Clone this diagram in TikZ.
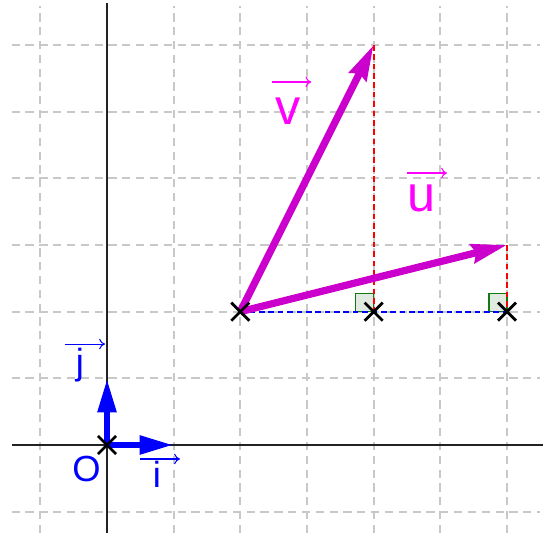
\documentclass[tikz,border=0pt]{standalone}
\usepackage{fontspec}
\setmainfont{Liberation Sans}
\usetikzlibrary{arrows.meta,shapes.misc}
\definecolor{vecmag}{HTML}{CC00CC}
\definecolor{labmag}{HTML}{FF00FF}
\definecolor{gridgray}{HTML}{C8C8C8}
\definecolor{axisgray}{HTML}{222222}
\definecolor{sqfill}{HTML}{E0EAE0}
\definecolor{sqdraw}{HTML}{137A13}
\definecolor{projred}{HTML}{FF0000}
\definecolor{baseblue}{HTML}{0000FF}
\tikzset{
  gridline/.style={draw=gridgray, line width=0.9pt, dash pattern=on 3.5pt off 2.4pt},
  axisline/.style={draw=axisgray, line width=1pt},
  projline/.style={draw=projred, line width=0.9pt, dash pattern=on 2.4pt off 1.6pt},
  basedash/.style={draw=baseblue, line width=0.9pt, dash pattern=on 2.4pt off 1.6pt},
  rightsq/.style={draw=sqdraw, fill=sqfill, line width=0.7pt},
  bigvec/.style={draw=vecmag, fill=vecmag, line width=3.1pt, -{Stealth[length=15pt, width=8pt, inset=1.5pt]}},
  basevec/.style={draw=baseblue, fill=baseblue, line width=2.8pt, -{Triangle[length=14.5pt, width=7.5pt]}},
  ptmark/.style={cross out, draw=black, line width=1.2pt, minimum size=6.5pt, inner sep=0pt},
  biglab/.style={text=labmag, font=\fontsize{21.5}{24}\selectfont, anchor=base, inner sep=0pt},
  smalllab/.style={text=baseblue, font=\fontsize{15.5}{18}\selectfont, anchor=base, inner sep=0pt},
  labarrow/.style={line width=0.45pt, -{To[length=2.5pt, width=4.5pt]}}
}
\begin{document}
\begin{tikzpicture}[x=1cm, y=1cm]
\useasboundingbox (-1.605,-1.32) rectangle (6.615,6.675);
% grid
\foreach \y in {-1,...,6} \draw[gridline] (-1.43,\y) -- (6.5,\y);
\foreach \x in {-1,...,6} \draw[gridline] (\x,-1.32) -- (\x,6.58);
% axes
\draw[axisline] (-1.42,0) -- (6.54,0);
\draw[axisline] (0,-1.32) -- (0,6.63);
% points
\coordinate (V) at (4,6);
\coordinate (U) at (6,3);
\coordinate (I) at (1,0);
\coordinate (J) at (0,1);
\coordinate (A) at (2,2);
\coordinate (B) at (4,2);
\coordinate (C) at (6,2);
\coordinate (O) at (0,0);
% right angle markers
\draw[rightsq] (3.73,2) rectangle (4,2.27);
\draw[rightsq] (5.73,2) rectangle (6,2.27);
% projections
\draw[projline] (V) -- (B);
\draw[projline] (U) -- (C);
\draw[basedash] (A) -- (C);
% vectors
\draw[bigvec] (A) -- (V);
\draw[bigvec] (A) -- (U);
\draw[basevec] (O) -- (I);
\draw[basevec] (O) -- (J);
% cross marks
\node[ptmark] (mA) at (A) {};
\node[ptmark] (mB) at (B) {};
\node[ptmark] (mC) at (C) {};
\node[ptmark] (mO) at (O) {};
% labels
\node[biglab] (lv) at (2.715,4.8) {v};
\draw[labarrow, draw=labmag] ([shift={(-0.24,0.645)}]lv.base) -- ++(0.59,0);
\node[biglab] (lu) at (4.725,3.495) {u};
\draw[labarrow, draw=labmag] ([shift={(-0.225,0.585)}]lu.base) -- ++(0.6,0);
\node[smalllab] (lj) at (-0.405,1.057) {j};
\draw[labarrow, draw=baseblue] ([shift={(-0.225,0.457)}]lj.base) -- ++(0.6,0);
\node[smalllab] (li) at (0.75,-0.645) {i};
\draw[labarrow, draw=baseblue] ([shift={(-0.255,0.435)}]li.base) -- ++(0.6,0);
\node[smalllab] (lO) at (-0.307,-0.555) {O};
\end{tikzpicture}
\end{document}
